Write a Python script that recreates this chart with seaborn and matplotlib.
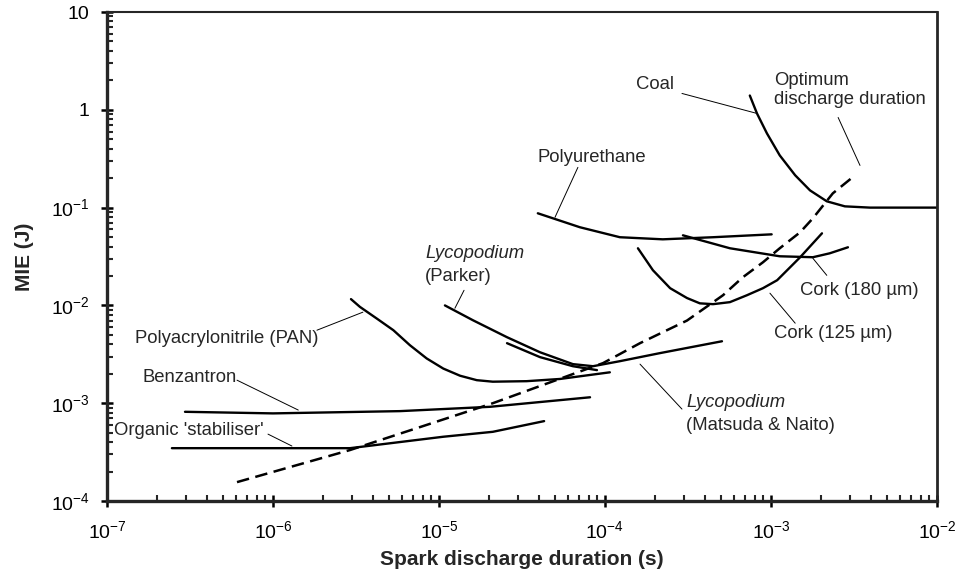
import numpy as np
import pandas as pd
import matplotlib
matplotlib.use("Agg")
import matplotlib.pyplot as plt
import seaborn as sns

# curves (duration in s, MIE in J)
organic_t = [2.46e-7, 1.0e-6, 2.91e-6, 1.06e-5, 2.11e-5, 4.3e-5]
organic_e = [3.47e-4, 3.47e-4, 3.47e-4, 4.54e-4, 5.1e-4, 6.56e-4]

benz_t = [2.95e-7, 1.0e-6, 5.82e-6, 2.03e-5, 8.13e-5]
benz_e = [8.17e-4, 7.87e-4, 8.3e-4, 9.19e-4, 1.15e-3]

pan_t = [2.95e-6, 3.34e-6, 4.22e-6, 5.31e-6, 6.68e-6, 8.43e-6, 1.062e-5, 1.34e-5,
         1.69e-5, 2.11e-5, 3.37e-5, 5.36e-5, 1.07e-4]
pan_e = [1.16e-2, 9.66e-3, 7.34e-3, 5.58e-3, 3.92e-3, 2.87e-3, 2.26e-3, 1.91e-3,
         1.72e-3, 1.66e-3, 1.68e-3, 1.77e-3, 2.07e-3]

parker_t = [1.086e-5, 1.60e-5, 2.57e-5, 4.06e-5, 6.41e-5, 8.47e-5, 1.23e-4, 2.14e-4, 5.07e-4]
parker_e = [1.0e-2, 7.06e-3, 4.73e-3, 3.32e-3, 2.51e-3, 2.39e-3, 2.69e-3, 3.25e-3, 4.30e-3]

matsuda_t = [2.57e-5, 4.06e-5, 6.41e-5, 8.95e-5]
matsuda_e = [4.11e-3, 2.96e-3, 2.39e-3, 2.18e-3]

poly_t = [3.94e-5, 7.06e-5, 1.23e-4, 2.23e-4, 4.48e-4, 1.01e-3]
poly_e = [0.0875, 0.0630, 0.0498, 0.0474, 0.0498, 0.0533]

cork180_t = [2.95e-4, 5.66e-4, 1.13e-3, 1.79e-3, 2.26e-3, 2.91e-3]
cork180_e = [0.0521, 0.0384, 0.0318, 0.0311, 0.0341, 0.0393]

cork125_t = [1.58e-4, 1.945e-4, 2.47e-4, 3.12e-4, 3.73e-4, 4.48e-4, 5.66e-4, 7.16e-4,
             8.95e-4, 1.09e-3, 1.50e-3, 2.03e-3]
cork125_e = [0.0384, 0.0229, 0.0150, 0.0119, 0.0105, 0.0103, 0.0108, 0.0127,
             0.0150, 0.0181, 0.0311, 0.0546]

coal_t = [7.46e-4, 8.24e-4, 9.46e-4, 1.13e-3, 1.40e-3, 1.72e-3, 2.17e-3, 2.79e-3, 3.95e-3, 1.0e-2]
coal_e = [1.40, 0.918, 0.574, 0.342, 0.214, 0.150, 0.116, 0.103, 0.100, 0.100]

opt_t = [6.07e-7, 2.91e-6, 2.11e-5, 9.73e-5, 1.626e-4, 3.12e-4, 5.14e-4, 6.77e-4,
         8.95e-4, 1.13e-3, 1.50e-3, 1.79e-3, 2.36e-3, 3.21e-3]
opt_e = [1.56e-4, 3.32e-4, 1.0e-3, 2.57e-3, 4.11e-3, 7.0e-3, 1.27e-2, 1.94e-2,
         2.76e-2, 3.84e-2, 5.6e-2, 7.78e-2, 0.140, 0.214]

solid_curves = {
    "Organic": (organic_t, organic_e),
    "Benzantron": (benz_t, benz_e),
    "PAN": (pan_t, pan_e),
    "Parker": (parker_t, parker_e),
    "Matsuda": (matsuda_t, matsuda_e),
    "Polyurethane": (poly_t, poly_e),
    "Cork180": (cork180_t, cork180_e),
    "Cork125": (cork125_t, cork125_e),
    "Coal": (coal_t, coal_e),
}

sns.set_style("ticks")
plt.rcParams['font.family'] = ['Liberation Sans', 'DejaVu Sans']
plt.rcParams['mathtext.fontset'] = 'custom'
plt.rcParams['mathtext.rm'] = 'Liberation Sans'

fig = plt.figure(figsize=(9.58, 5.72), dpi=100)
ax = fig.add_axes([0.1117, 0.1241, 0.8663, 0.8549])

for name, (t, e) in solid_curves.items():
    sns.lineplot(x=t, y=e, sort=False, color="black", lw=1.7, ax=ax,
                 estimator=None)

sns.lineplot(x=opt_t, y=opt_e, sort=False, color="black", lw=1.8, ax=ax,
             estimator=None, linestyle=(0, (5, 2.6)))

ax.set_xscale("log")
ax.set_yscale("log")
ax.set_xlim(1e-7, 1e-2)
ax.set_ylim(1e-4, 10)


def fmt(v, pos):
    p = int(round(np.log10(v)))
    if p >= 0:
        return str(int(round(v)))
    return r"$\mathregular{10^{%d}}$" % p


ax.xaxis.set_major_formatter(matplotlib.ticker.FuncFormatter(
    lambda v, pos: r"$\mathregular{10^{%d}}$" % int(round(np.log10(v)))))
ax.yaxis.set_major_formatter(matplotlib.ticker.FuncFormatter(fmt))
ax.xaxis.set_major_locator(matplotlib.ticker.LogLocator(base=10, numticks=10))
ax.yaxis.set_major_locator(matplotlib.ticker.LogLocator(base=10, numticks=10))
ax.xaxis.set_minor_locator(matplotlib.ticker.LogLocator(base=10, subs=np.arange(2, 10), numticks=20))
ax.yaxis.set_minor_locator(matplotlib.ticker.LogLocator(base=10, subs=np.arange(2, 10), numticks=20))
ax.xaxis.set_minor_formatter(matplotlib.ticker.NullFormatter())
ax.yaxis.set_minor_formatter(matplotlib.ticker.NullFormatter())

ax.tick_params(which="major", direction="inout", length=9, width=1.8,
               labelsize=14, colors="black")
ax.tick_params(which="minor", direction="in", length=4.5, width=1.5)
ax.tick_params(axis="y", which="major", pad=8)
ax.tick_params(axis="x", which="major", pad=9)

for side in ["left", "bottom"]:
    ax.spines[side].set_linewidth(2.4)
ax.spines["right"].set_linewidth(2.0)
ax.spines["top"].set_linewidth(1.5)
for side in ["top", "right"]:
    ax.spines[side].set_visible(True)

ax.set_xlabel("Spark discharge duration (s)", fontsize=15, fontweight="bold", labelpad=6)
ax.set_ylabel("MIE (J)", fontsize=15, fontweight="bold", labelpad=12)

fs = 13.3
lead = dict(arrowstyle="-", lw=0.7, color="black", shrinkA=0, shrinkB=0)


def leader(p0, p1):
    ax.annotate("", xy=p1, xytext=p0, arrowprops=lead)


ax.text(2.0e-4, 1.82, "Coal", fontsize=fs, ha="center", va="center")
leader((2.91e-4, 1.47), (8.24e-4, 0.918))

ax.text(1.042e-3, 1.60, "Optimum\ndischarge duration", fontsize=fs,
        ha="left", va="center", linespacing=1.15)
leader((2.54e-3, 0.835), (3.44e-3, 0.270))

ax.text(8.3e-5, 0.327, "Polyurethane", fontsize=fs, ha="center", va="center")
leader((6.87e-5, 0.258), (5.0e-5, 0.0796))

ax.text(8.24e-6, 0.0341, "Lycopodium", fontsize=fs, ha="left", va="center", style="italic")
ax.text(8.24e-6, 0.01986, "(Parker)", fontsize=fs, ha="left", va="center")
leader((1.416e-5, 0.01428), (1.247e-5, 9.35e-3))

ax.text(1.496e-3, 0.01428, "Cork (180 µm)", fontsize=fs, ha="left", va="center")
leader((2.17e-3, 0.0203), (1.79e-3, 0.0303))

ax.text(1.042e-3, 5.2e-3, "Cork (125 µm)", fontsize=fs, ha="left", va="center")
leader((1.40e-3, 6.58e-3), (9.86e-4, 0.01334))

ax.text(3.08e-4, 1.026e-3, "Lycopodium", fontsize=fs, ha="left", va="center", style="italic")
ax.text(3.08e-4, 5.97e-4, "(Matsuda & Naito)", fontsize=fs, ha="left", va="center")
leader((2.91e-4, 8.71e-4), (1.626e-4, 2.51e-3))

ax.text(1.89e-6, 4.62e-3, "Polyacrylonitrile (PAN)", fontsize=fs, ha="right", va="center")
leader((1.84e-6, 5.58e-3), (3.48e-6, 8.53e-3))

ax.text(1.625e-7, 1.85e-3, "Benzantron", fontsize=fs, ha="left", va="center")
leader((6.07e-7, 1.72e-3), (1.42e-6, 8.51e-4))

ax.text(1.10e-7, 5.31e-4, "Organic 'stabiliser'", fontsize=fs, ha="left", va="center")
leader((9.33e-7, 4.83e-4), (1.30e-6, 3.65e-4))

fig.savefig("out.png", dpi=100)
